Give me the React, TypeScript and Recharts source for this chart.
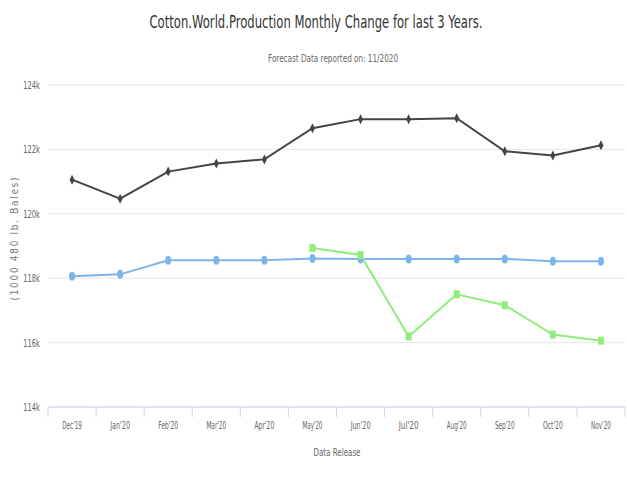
import React from 'react';
import { LineChart, Line, XAxis, YAxis, CartesianGrid } from 'recharts';

const months = ["Dec'19", "Jan'20", "Feb'20", "Mar'20", "Apr'20", "May'20", "Jun'20", "Jul'20", "Aug'20", "Sep'20", "Oct'20", "Nov'20"];
const seriesDark = [121060, 120470, 121310, 121560, 121690, 122660, 122940, 122940, 122970, 121940, 121810, 122130];
const seriesBlue = [118060, 118120, 118560, 118560, 118560, 118610, 118600, 118600, 118600, 118600, 118530, 118530];
const seriesGreen = [null, null, null, null, null, 118940, 118720, 116190, 117500, 117160, 116250, 116060];
const yTicks = [114000, 116000, 118000, 120000, 122000, 124000];

const data = months.map((m, i) => ({
  month: m,
  dark: seriesDark[i],
  blue: seriesBlue[i],
  green: seriesGreen[i],
}));

const FONT = '"DejaVu Sans Condensed", "DejaVu Sans", sans-serif';
const HALF_BAND = 577 / 12 / 2;

const XTick = (props: any) => {
  const { x, y, payload, index } = props;
  return (
    <g>
      <line x1={x - HALF_BAND} y1={y} x2={x - HALF_BAND} y2={y + 10} stroke="#ccd6eb" />
      {index === months.length - 1 && (
        <line x1={x + HALF_BAND} y1={y} x2={x + HALF_BAND} y2={y + 10} stroke="#ccd6eb" />
      )}
      <text x={x} y={y + 22} textAnchor="middle" fontSize={11} fill="#666" fontFamily={FONT}
        textLength={payload.value.length * 3.3} lengthAdjust="spacingAndGlyphs">
        {payload.value}
      </text>
    </g>
  );
};

const YTick = (props: any) => {
  const { x, y, payload } = props;
  const label = payload.value / 1000 + 'k';
  return (
    <text x={x} y={y + 4} textAnchor="end" fontSize={11} fill="#666" fontFamily={FONT}
      textLength={label.length * 4.2} lengthAdjust="spacingAndGlyphs">
      {label}
    </text>
  );
};

const DiamondDot = (props: any) => {
  const { cx, cy, key } = props;
  if (cx == null || cy == null) return <g key={key} />;
  return (
    <path key={key} d={`M${cx},${cy - 5} L${cx + 2.5},${cy} L${cx},${cy + 5} L${cx - 2.5},${cy} Z`} fill="#434348" />
  );
};

const CircleDot = (props: any) => {
  const { cx, cy, key } = props;
  if (cx == null || cy == null) return <g key={key} />;
  return <ellipse key={key} cx={cx} cy={cy} rx={3} ry={4.5} fill="#7cb5ec" />;
};

const SquareDot = (props: any) => {
  const { cx, cy, key, value } = props;
  if (cx == null || cy == null || value == null) return <g key={key} />;
  return <rect key={key} x={cx - 3} y={cy - 4} width={6} height={8} fill="#90ed7d" />;
};

const App: React.FC = () => {
  return (
    <div style={{ position: 'absolute', left: 0, top: 0, width: 627, height: 478, background: '#fff' }}>
      <LineChart width={627} height={478} data={data} margin={{ top: 85, right: 2, bottom: 41, left: 0 }}>
        <CartesianGrid horizontal vertical={false} stroke="#e6e6e6" />
        <XAxis dataKey="month" height={30} stroke="#ccd6eb" tickLine={false} tickSize={0} tickMargin={0}
          tick={<XTick />} interval={0} padding={{ left: HALF_BAND, right: HALF_BAND }} />
        <YAxis width={48} domain={[114000, 124000]} ticks={yTicks} axisLine={false} tickLine={false}
          tick={<YTick />} />
        <Line type="linear" dataKey="dark" stroke="#434348" strokeWidth={2} dot={<DiamondDot />} isAnimationActive={false} />
        <Line type="linear" dataKey="blue" stroke="#7cb5ec" strokeWidth={2} dot={<CircleDot />} isAnimationActive={false} />
        <Line type="linear" dataKey="green" stroke="#90ed7d" strokeWidth={2} dot={<SquareDot />} isAnimationActive={false} />
      </LineChart>
      <svg width={627} height={478} style={{ position: 'absolute', left: 0, top: 0, pointerEvents: 'none' }}>
        <text x={316} y={28} textAnchor="middle" fontSize={17} fill="#333" fontFamily={FONT}
          textLength={333} lengthAdjust="spacingAndGlyphs">
          Cotton.World.Production Monthly Change for last 3 Years.
        </text>
        <text x={333} y={62} textAnchor="middle" fontSize={11} fill="#666" fontFamily={FONT}
          textLength={130} lengthAdjust="spacingAndGlyphs">
          Forecast Data reported on: 11/2020
        </text>
        <text x={337} y={456} textAnchor="middle" fontSize={11} fill="#666" fontFamily={FONT}
          textLength={47} lengthAdjust="spacingAndGlyphs">
          Data Release
        </text>
        <text x={0} y={0} transform="translate(18,239) rotate(-90)" textAnchor="middle" fontSize={10} fill="#777"
          fontFamily={FONT} textLength={123} lengthAdjust="spacing">
          (1000 480 lb. Bales)
        </text>
      </svg>
    </div>
  );
};

export default App;
